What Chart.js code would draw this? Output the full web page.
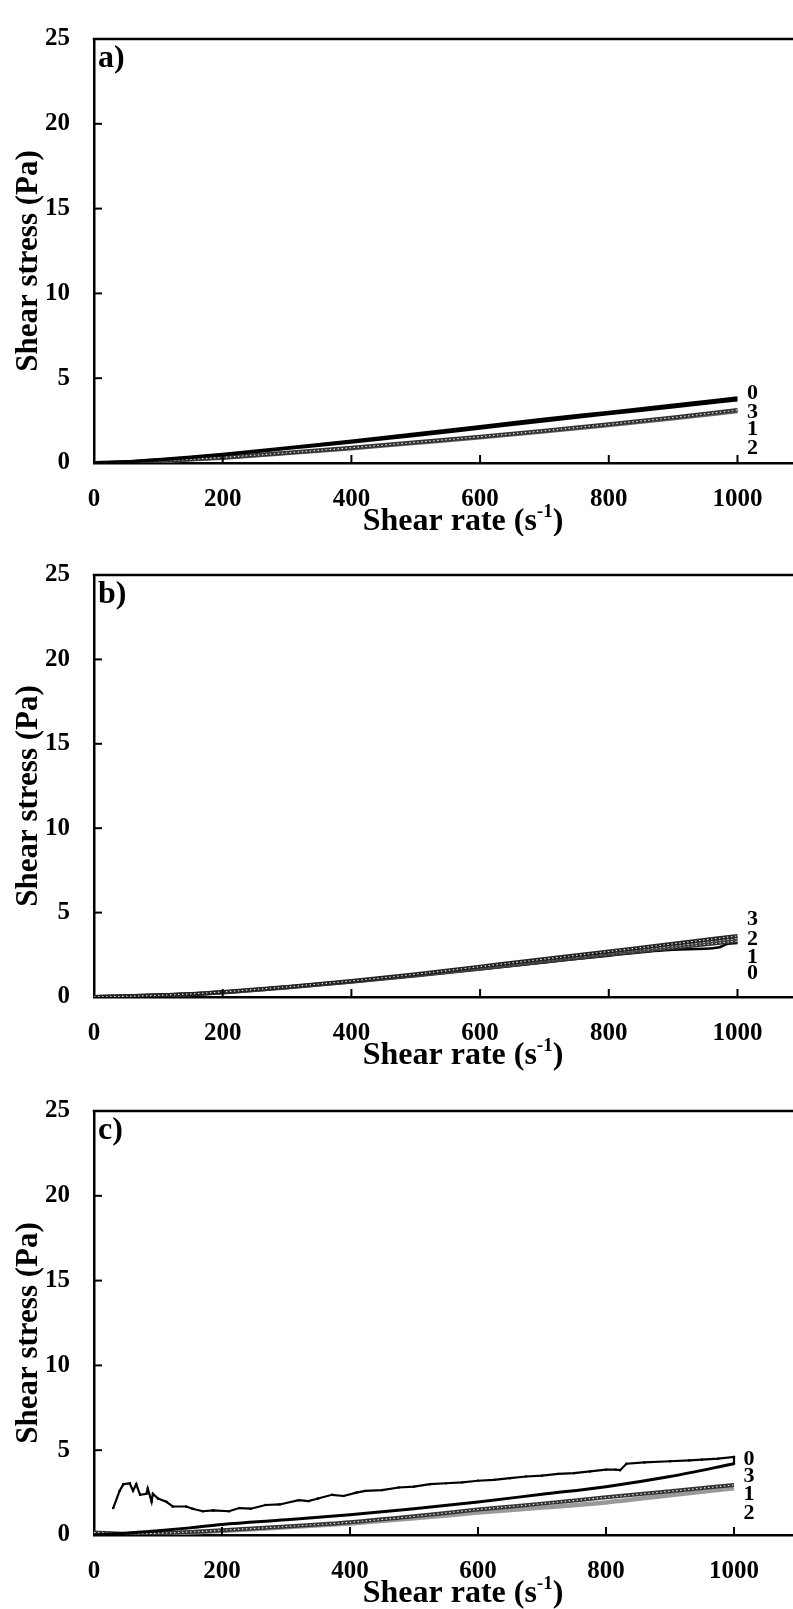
<!DOCTYPE html>
<html>
<head>
<meta charset="utf-8">
<script src="https://cdn.jsdelivr.net/npm/chart.js@4.4.1/dist/chart.umd.min.js"></script>
<style>
  html, body { margin: 0; padding: 0; background: #fff; overflow: hidden; width: 793px; height: 1609px; }
  canvas { display: block; }
</style>
</head>
<body>
<canvas id="chartA" width="834" height="536"></canvas>
<canvas id="chartB" width="834" height="536"></canvas>
<canvas id="chartC" width="834" height="537"></canvas>
<script>
// shear rate points (s-1)
const rates = [0, 50, 100, 150, 200, 300, 400, 500, 600, 700, 800, 900, 1000];
const xTicks = [0, 200, 400, 600, 800, 1000];
const yTicks = [0, 5, 10, 15, 20, 25];

// panel a)
const a0 = [0, 0.08, 0.2, 0.35, 0.52, 0.9, 1.3, 1.72, 2.15, 2.6, 3.0, 3.42, 3.85];
const a3 = [0, 0.07, 0.18, 0.32, 0.48, 0.85, 1.22, 1.62, 2.05, 2.48, 2.9, 3.3, 3.72];
const a1 = [0, 0.05, 0.12, 0.22, 0.33, 0.6, 0.9, 1.22, 1.55, 1.9, 2.28, 2.68, 3.12];
const a2 = [0, 0.04, 0.1, 0.2, 0.3, 0.57, 0.86, 1.18, 1.5, 1.85, 2.22, 2.62, 3.05];

// panel b)
const b3 = [0, 0.04, 0.1, 0.18, 0.3, 0.6, 0.95, 1.35, 1.8, 2.25, 2.7, 3.15, 3.62];
const b2 = [0, 0.04, 0.1, 0.17, 0.28, 0.58, 0.92, 1.3, 1.72, 2.16, 2.6, 3.02, 3.48];
const b1 = [0, 0.03, 0.09, 0.16, 0.27, 0.56, 0.9, 1.27, 1.68, 2.1, 2.52, 2.92, 3.32];
const b0Rates = [0, 50, 100, 150, 200, 300, 400, 500, 600, 700, 800, 900, 970, 985, 1000];
const b0 = [0, 0.03, 0.09, 0.16, 0.27, 0.56, 0.9, 1.26, 1.65, 2.05, 2.45, 2.8, 2.93, 3.15, 3.2];

// panel c)
const c0Rates = [30, 40, 46, 56, 61, 66, 72, 82, 84, 90, 92, 100, 113, 123, 144, 154, 170, 186, 211, 227,
                 245, 268, 290, 320, 335, 350, 372, 390, 410, 424, 450, 476, 500, 525, 550, 575, 600, 625,
                 650, 675, 700, 725, 750, 775, 800, 815, 822, 832, 860, 900, 930, 950, 975, 1000, 1000];
const c0 = [1.59, 2.6, 3.0, 3.04, 2.6, 3.0, 2.37, 2.43, 2.74, 1.96, 2.43, 2.15, 1.96, 1.68, 1.68, 1.55, 1.4, 1.45, 1.4, 1.59,
            1.55, 1.77, 1.8, 2.05, 2.0, 2.15, 2.37, 2.3, 2.5, 2.6, 2.65, 2.8, 2.85, 3.0, 3.05, 3.1, 3.2, 3.25,
            3.35, 3.45, 3.5, 3.6, 3.65, 3.75, 3.85, 3.85, 3.82, 4.2, 4.28, 4.35, 4.4, 4.45, 4.5, 4.6, 4.2];
const c3 = [0, 0.1, 0.25, 0.42, 0.62, 0.9, 1.2, 1.55, 1.95, 2.4, 2.85, 3.45, 4.2];
const c1 = [0.15, 0.08, 0.1, 0.18, 0.28, 0.5, 0.75, 1.1, 1.5, 1.85, 2.22, 2.58, 2.95];
const c2 = [0, 0.04, 0.08, 0.15, 0.24, 0.45, 0.68, 0.98, 1.32, 1.62, 1.92, 2.35, 2.75];

// numbers printed at the right end of the curves: [text, y value]
const endsA = [['0', 4.12], ['3', 2.99], ['1', 1.97], ['2', 0.85]];
const endsB = [['3', 4.59], ['2', 3.39], ['1', 2.33], ['0', 1.4]];
const endsC = [['0', 4.47], ['3', 3.45], ['1', 2.39], ['2', 1.28]];

const FONT = "'Liberation Serif', 'Times New Roman', serif";

const pts = (xs, ys) => xs.map((x, i) => ({ x: x, y: ys[i] }));

function blackLine(data, width) {
    return { data: data, borderColor: '#000', borderWidth: width, pointRadius: 0,
             cubicInterpolationMode: 'monotone' };
}
function dottedLine(data, color) {
    return [
        { data: data, borderColor: 'rgba(255,255,255,0.9)', borderWidth: 1.1, borderDash: [1.5, 2.5],
          pointRadius: 0, cubicInterpolationMode: 'monotone' },
        { data: data, borderColor: color, borderWidth: 4, pointRadius: 0, cubicInterpolationMode: 'monotone' }
    ];
}

const decor = {
    id: 'decor',
    afterDraw(chart, args, opts) {
        const { ctx, chartArea: ca, scales: { x, y } } = chart;
        ctx.save();
        ctx.strokeStyle = '#000';
        ctx.lineWidth = 2.5;
        ctx.beginPath();
        ctx.moveTo(ca.left - 1.25, ca.top);
        ctx.lineTo(ca.right, ca.top);
        ctx.stroke();

        // inward tick marks
        ctx.lineWidth = 2;
        xTicks.slice(1).forEach(v => {
            const px = x.getPixelForValue(v);
            ctx.beginPath(); ctx.moveTo(px, ca.bottom); ctx.lineTo(px, ca.bottom - 8); ctx.stroke();
        });
        yTicks.slice(1, -1).forEach(v => {
            const py = y.getPixelForValue(v);
            ctx.beginPath(); ctx.moveTo(ca.left, py); ctx.lineTo(ca.left + 8, py); ctx.stroke();
        });

        ctx.fillStyle = '#000';
        ctx.textAlign = 'left';
        ctx.textBaseline = 'alphabetic';
        ctx.font = 'bold 32px ' + FONT;
        ctx.fillText(opts.letter, ca.left + 4, ca.top + 28);

        ctx.font = 'bold 22px ' + FONT;
        ctx.textAlign = 'center';
        ctx.textBaseline = 'middle';
        const ex = x.getPixelForValue(1000) + 15;
        opts.ends.forEach(([t, v]) => ctx.fillText(t, ex, y.getPixelForValue(v)));

        // y axis title, a little below the middle as in the source
        ctx.save();
        ctx.translate(37, (ca.top + ca.bottom) / 2 + 10);
        ctx.rotate(-Math.PI / 2);
        ctx.textBaseline = 'alphabetic';
        ctx.font = 'bold 31px ' + FONT;
        ctx.fillText('Shear stress (Pa)', 0, 0);
        ctx.restore();

        // x axis title with superscript
        ctx.textAlign = 'left';
        ctx.textBaseline = 'alphabetic';
        const big = 'bold 32px ' + FONT, small = 'bold 19px ' + FONT;
        const p1 = 'Shear rate (s', p2 = '-1', p3 = ')';
        ctx.font = big; const w1 = ctx.measureText(p1).width, w3 = ctx.measureText(p3).width;
        ctx.font = small; const w2 = ctx.measureText(p2).width;
        let tx = 463 - (w1 + w2 + w3) / 2;
        const ty = ca.bottom + 67;
        ctx.font = big; ctx.fillText(p1, tx, ty); tx += w1;
        ctx.font = small; ctx.fillText(p2, tx, ty - 13); tx += w2;
        ctx.font = big; ctx.fillText(p3, tx, ty);
        ctx.restore();
    }
};

function makeChart(id, datasets, letter, ends, padTop, xHeight) {
    new Chart(document.getElementById(id), {
        type: 'line',
        data: { datasets: datasets },
        options: {
            responsive: false,
            animation: false,
            devicePixelRatio: 1,
            layout: { padding: { top: padTop, left: 0, right: 0, bottom: 0 } },
            plugins: { legend: { display: false }, tooltip: { enabled: false }, decor: { letter: letter, ends: ends } },
            scales: {
                x: {
                    type: 'linear', min: 0, max: 1150,
                    afterBuildTicks: s => { s.ticks = xTicks.map(v => ({ value: v })); },
                    afterFit: s => { s.height = xHeight; },
                    grid: { display: false, drawTicks: false },
                    border: { display: true, color: '#000', width: 2.5 },
                    ticks: { color: '#000', padding: 22, maxRotation: 0, callback: v => String(v),
                             font: { family: FONT, size: 25, weight: 'bold' } }
                },
                y: {
                    min: 0, max: 25,
                    afterBuildTicks: s => { s.ticks = yTicks.map(v => ({ value: v })); },
                    afterFit: s => { s.width = 94; },
                    grid: { display: false, drawTicks: false },
                    border: { display: true, color: '#000', width: 2.5 },
                    ticks: { color: '#000', padding: 24, callback: v => String(v),
                             font: { family: FONT, size: 25, weight: 'bold' } }
                }
            }
        },
        plugins: [decor]
    });
}

makeChart('chartA', [
    blackLine(pts(rates, a0), 3),
    blackLine(pts(rates, a3), 3),
    ...dottedLine(pts(rates, a1), '#333'),
    ...dottedLine(pts(rates, a2), '#666')
], 'a)', endsA, 20, 73);

makeChart('chartB', [
    ...dottedLine(pts(rates, b3), '#222'),
    ...dottedLine(pts(rates, b2), '#444'),
    ...dottedLine(pts(rates, b1), '#333'),
    blackLine(pts(b0Rates, b0), 2.5)
], 'b)', endsB, 20, 75);

makeChart('chartC', [
    { data: pts(c0Rates, c0), borderColor: '#000', borderWidth: 2.2, tension: 0,
      pointRadius: 1.6, pointStyle: 'rect', pointBackgroundColor: '#000', pointBorderWidth: 0 },
    blackLine(pts(rates, c3), 3),
    ...dottedLine(pts(rates, c1), '#333'),
    { data: pts(rates, c2), borderColor: '#999', borderWidth: 4.5, pointRadius: 0, cubicInterpolationMode: 'monotone' }
], 'c)', endsC, 18, 74);
</script>
</body>
</html>
